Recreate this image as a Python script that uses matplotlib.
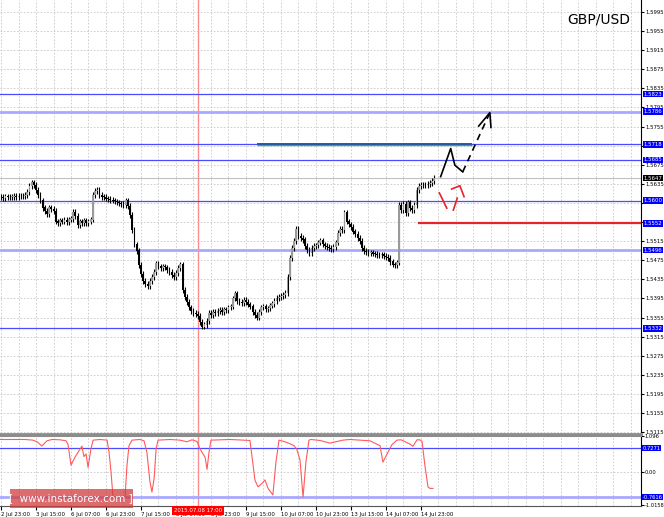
import matplotlib
matplotlib.use("Agg")
import matplotlib.pyplot as plt
import matplotlib.transforms as mtransforms
import numpy as np

# H1 closes, in pips above 1.5000
close_pips = [607, 606, 608, 607, 607, 608, 609, 608, 609, 610, 609,
              612, 618, 630, 638, 632, 622, 612, 600, 585, 578, 572,
              585, 582, 578, 556, 552, 558, 556, 559, 555, 560, 562,
              576, 568, 548, 556, 553, 558, 552, 556, 560, 612, 620,
              622, 612, 608, 607, 604, 603, 601, 600, 598, 596, 594,
              592, 590, 600, 588, 570, 538, 508, 495, 465, 446, 432,
              425, 420, 432, 440, 450, 468, 462, 458, 462, 460, 455,
              450, 444, 440, 448, 458, 466, 412, 398, 388, 376, 368,
              364, 362, 358, 346, 336, 340, 348, 364, 360, 366, 364,
              368, 370, 366, 372, 370, 376, 378, 395, 405, 390, 388,
              385, 392, 388, 382, 378, 366, 360, 355, 366, 376, 378,
              372, 374, 380, 384, 390, 396, 398, 400, 402, 406, 440,
              480, 500, 515, 540, 526, 522, 518, 505, 496, 490, 500,
              504, 506, 512, 516, 508, 504, 502, 500, 498, 502, 512,
              532, 540, 538, 575, 556, 550, 545, 535, 530, 522, 515,
              500, 494, 492, 490, 491, 489, 488, 486, 485, 487, 484,
              482, 480, 472, 466, 464, 470, 590, 580, 592, 574, 596,
              584, 580, 590, 622, 630, 632, 633, 632, 634, 636, 641, 647]

# indicator line (bar position, value)
ind_pos = [-0.5, 4.1, 11.0, 14.6, 16.5, 18.7, 21.0, 23.3, 27.0, 29.7, 30.6,
           32.0, 33.8, 35.7, 37.0, 37.9, 38.9, 39.8, 41.1, 42.1, 45.3, 48.5,
           49.4, 50.3, 51.2, 53.5, 56.7, 57.6, 58.5, 59.9, 63.5, 65.4, 66.7,
           68.1, 69.0, 70.0, 70.9, 71.8, 77.3, 81.8, 85.0, 87.3, 89.6, 91.0,
           93.3, 94.2, 95.1, 96.0, 104.7, 113.8, 114.7, 116.1, 117.5, 119.3,
           120.7, 122.1, 124.3, 125.7, 127.1, 129.8, 132.1, 134.0, 135.3,
           136.7, 138.1, 139.4, 140.8, 141.7, 145.8, 150.4, 156.3, 159.5,
           168.7, 173.3, 174.6, 176.9, 178.7, 181.0, 182.9, 187.0, 188.3,
           190.2, 191.5, 192.5, 193.8, 195.2, 196.1, 197.5]
ind_val = [0.99, 0.99, 0.99, 0.97, 0.92, 0.79, 0.95, 0.99, 0.98, 0.95, 0.85,
           0.21, 0.45, 0.65, 0.79, 0.47, 0.55, 0.14, 0.70, 0.97, 0.99, 0.97,
           0.60, 0.00, -0.76, -0.78, -0.77, 0.20, 0.80, 0.97, 0.99, 0.95,
           0.60, -0.30, -0.61, -0.20, 0.70, 0.97, 0.99, 0.97, 0.92, 0.98,
           0.93, 0.70, 0.45, 0.08, 0.60, 0.97, 0.99, 0.96, 0.50, -0.25,
           -0.45, -0.35, -0.24, -0.50, -0.70, 0.30, 0.97, 0.92, 0.86, 0.80,
           0.68, 0.36, -0.76, 0.30, 0.97, 0.99, 0.96, 0.88, 0.97, 0.99, 0.95,
           0.80, 0.30, 0.60, 0.83, 0.97, 0.98, 0.85, 0.78, 0.98, 0.98, 0.93,
           0.20, -0.45, -0.50, -0.50]

levels_thin = [1.5823, 1.5718, 1.5685, 1.5600, 1.5332]
levels_wide = [1.5786, 1.5496]
level_red = 1.5552
bid = 1.5647
ind_levels = [0.7271, -0.7616]

tick_pos = [0, 16, 32, 48, 64, 80, 96, 112, 128, 144, 160, 176, 192]
tick_lab = ['2 Jul 23:00', '3 Jul 15:00', '6 Jul 07:00', '6 Jul 23:00',
            '7 Jul 15:00', '8 Jul 07:00', '8 Jul 23:00', '9 Jul 15:00',
            '10 Jul 07:00', '10 Jul 23:00', '13 Jul 15:00', '14 Jul 07:00',
            '14 Jul 23:00']

closes = 1.5 + np.array(close_pips) / 10000.0
opens = np.r_[closes[0], closes[:-1]]
x = np.arange(len(closes))
highs = np.maximum(opens, closes) + 0.0006
lows = np.minimum(opens, closes) - 0.0006

W, H = 664, 517
fig = plt.figure(figsize=(6.64, 5.17), dpi=100)
ax = fig.add_axes([0, 1 - 434 / H, 641 / W, 434 / H])
ax2 = fig.add_axes([0, 1 - 506 / H, 641 / W, 70 / H])

xlim = (-0.46, 292.6)
grid_kw = dict(color='#c8c8c8', lw=0.6, ls=(0, (2, 2)), zorder=0)
for a in (ax, ax2):
    a.set_xlim(*xlim)
    for v in np.arange(0, 293, 8):
        a.axvline(v, **grid_kw)
    a.yaxis.tick_right()
    a.tick_params(axis='y', labelsize=3.9, length=2, pad=1, colors='black')
    a.spines['left'].set_visible(False)
    a.spines['right'].set_color('black')
    a.spines['right'].set_linewidth(0.8)

# main panel
boxed = levels_thin + levels_wide + [level_red, bid]
yt = np.round(np.arange(1.5115, 1.6000, 0.004), 4)
ax.set_ylim(1.5111, 1.6020)
ax.set_yticks(yt)
ax.set_yticklabels(['' if min(abs(v - b) for b in boxed) < 0.0006 else '%.4f' % v
                    for v in yt])
for v in yt:
    ax.axhline(v, **grid_kw)
ax.set_xticks([])
ax.spines['top'].set_visible(False)
ax.spines['bottom'].set_color('#8c8c8c')
ax.spines['bottom'].set_linewidth(2)

ax.axhline(bid, color='#c0c0c0', lw=0.8, zorder=1)
for v in levels_thin:
    ax.axhline(v, color='#4a4aff', lw=0.9, zorder=2)
for v in levels_wide:
    ax.axhline(v, color='#a8a8ff', lw=2, zorder=2)
ax.hlines(level_red, 190.6, xlim[1], color='#e8222a', lw=1.6, zorder=3)
ax.hlines(1.57165, 117, 215.2, color='#3fae49', lw=1.0, zorder=3)
ax.hlines(1.5719, 117, 215.2, color='#1f5aa8', lw=1.4, zorder=3)
ax.axvline(90, color='#ff8c8c', lw=1, zorder=1)

up = closes >= opens
ax.vlines(x, lows, highs, color='black', lw=0.8, zorder=4)
ax.bar(x[up], (closes - opens)[up] + 0.00005, bottom=opens[up], width=0.8,
       color='#9a9a9a', edgecolor='none', zorder=5)
ax.bar(x[~up], (opens - closes)[~up] + 0.00005, bottom=closes[~up], width=0.8,
       color='black', edgecolor='none', zorder=5)

# forecast arrows
ax.plot([201.0, 205.6, 207.5, 211.1], [1.5650, 1.5709, 1.5674, 1.5660],
        color='black', lw=1.2, zorder=6)
ax.plot([211.1, 223.5], [1.5660, 1.5784], color='black', lw=1.2,
        ls=(0, (4, 3)), zorder=6)
ax.plot([218.4, 223.5, 224.0], [1.5756, 1.5784, 1.5753], color='black',
        lw=1.2, zorder=6)
ax.plot([200.4, 203.8], [1.5616, 1.5584], color='#e8222a', lw=1.2, zorder=6)
ax.plot([206.8, 208.6], [1.5580, 1.5605], color='#e8222a', lw=1.2, zorder=6)
ax.plot([206.0, 209.8, 211.7], [1.5624, 1.5631, 1.5608], color='#e8222a',
        lw=1.2, zorder=6)

tr = mtransforms.blended_transform_factory(ax.transAxes, ax.transData)
box = dict(boxstyle='square,pad=0.15', fc='#0000ff', ec='none')
for v in levels_thin + levels_wide + [level_red]:
    ax.text(1.004, v, '%.4f' % v, transform=tr, fontsize=3.9, color='white',
            va='center', ha='left', bbox=box, zorder=10, clip_on=False)
ax.text(1.004, bid, '%.4f' % bid, transform=tr, fontsize=3.9, color='white',
        va='center', ha='left', zorder=10, clip_on=False,
        bbox=dict(boxstyle='square,pad=0.15', fc='black', ec='none'))

ax.text(0.983, 0.956, 'GBP/USD', transform=ax.transAxes, fontsize=10,
        ha='right', va='center', color='black')

# indicator panel
ax2.set_ylim(-1.035, 1.096)
ax2.set_yticks([1.096, 0.0, -1.0158])
ax2.set_yticklabels(['1.096', '0.00', '-1.0158'])
ax2.tick_params(axis='y', pad=0.5, labelsize=3.7)
ax2.axhline(0.0, **grid_kw)
ax2.axhline(ind_levels[0], color='#4a4aff', lw=0.9, zorder=2)
ax2.axhline(ind_levels[1], color='#a8a8ff', lw=2, zorder=2)
ax2.plot(ind_pos, ind_val, color='#ff5a5a', lw=0.8, zorder=3)
ax2.axvline(90, color='#ff8c8c', lw=1, zorder=1)
ax2.spines['top'].set_color('#8c8c8c')
ax2.spines['top'].set_linewidth(1.5)
ax2.spines['bottom'].set_color('#555555')
ax2.spines['bottom'].set_linewidth(0.8)
tr2 = mtransforms.blended_transform_factory(ax2.transAxes, ax2.transData)
for v in ind_levels:
    ax2.text(1.002, v, '%.4f' % v, transform=tr2, fontsize=3.7, color='white',
             va='center', ha='left', bbox=box, zorder=10, clip_on=False)

ax2.set_xticks(tick_pos)
ax2.set_xticklabels(tick_lab, fontsize=3.9, ha='left')
ax2.tick_params(axis='x', length=3, pad=1.5, colors='black')
ax2.text(90, -0.028, '2015.07.08 17:00',
         transform=mtransforms.blended_transform_factory(ax2.transData, ax2.transAxes),
         fontsize=3.9, color='white', ha='center', va='top', zorder=10, clip_on=False,
         bbox=dict(boxstyle='square,pad=0.3', fc='#ff0000', ec='none'))

# watermark
fig.patches.append(plt.Rectangle((10 / W, 1 - 508 / H), 123 / W, 19 / H,
                                 transform=fig.transFigure, fc='#d23c3c',
                                 ec='none', alpha=0.75, zorder=20))
fig.text(71 / W, 1 - 498.5 / H, '[  www.instaforex.com ]', fontsize=7.5,
         color='white', ha='center', va='center', zorder=21)

fig.savefig('out.png', dpi=100)
